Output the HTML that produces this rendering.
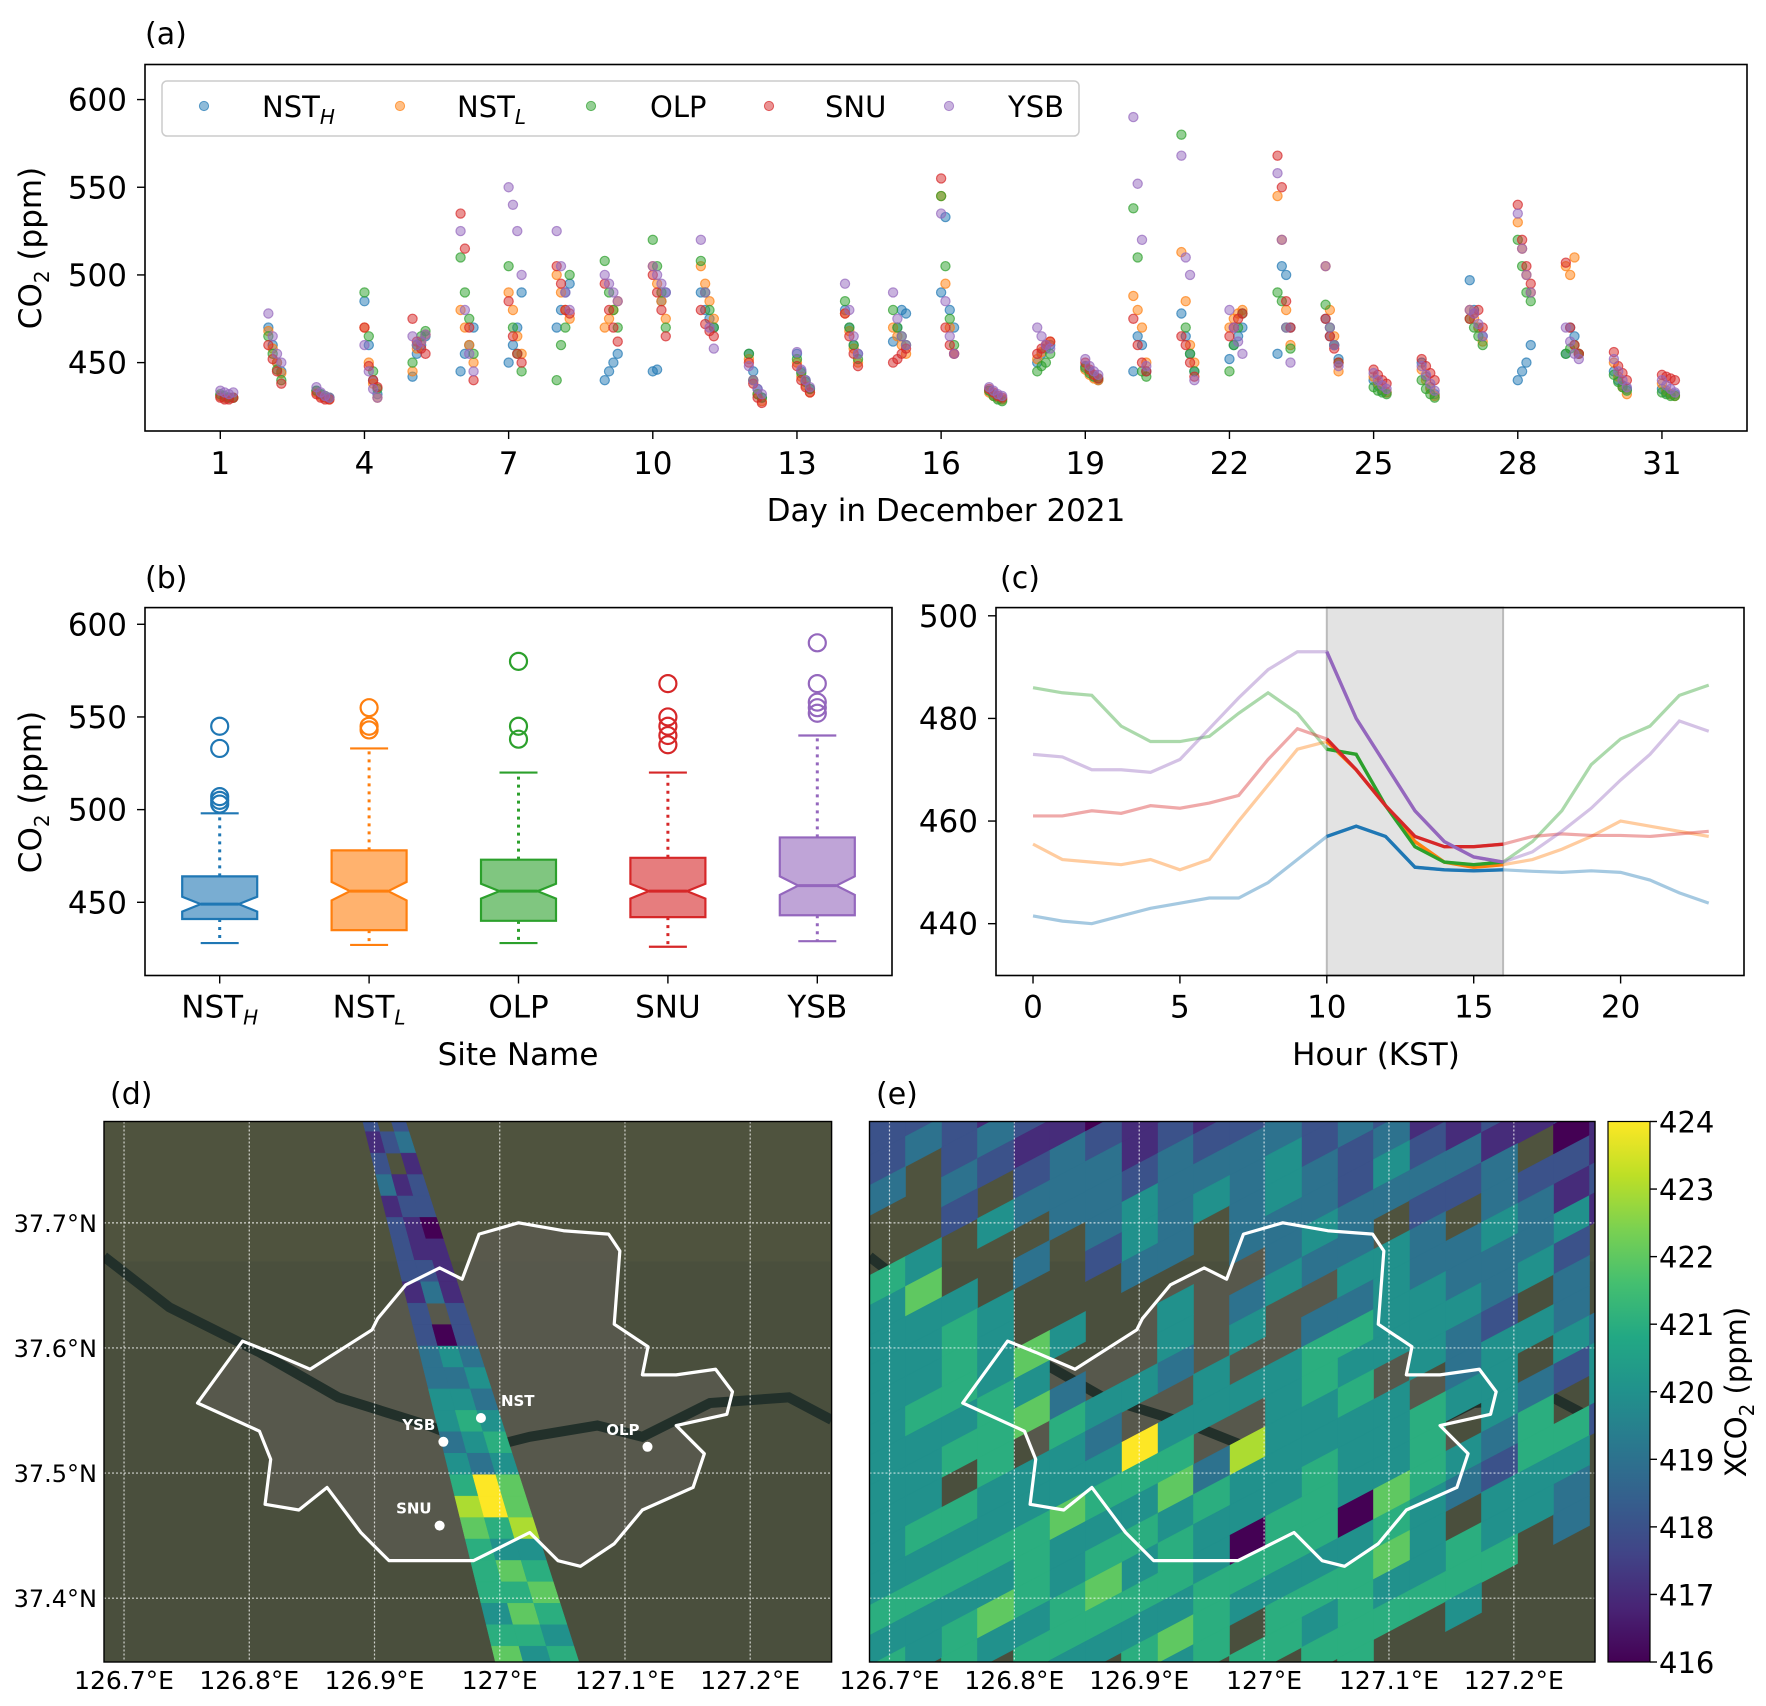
<!DOCTYPE html>
<html><head><meta charset="utf-8">
<style>
html,body{margin:0;padding:0;background:#fff;}
svg{display:block;font-family:"DejaVu Sans","Liberation Sans",sans-serif;}
text{fill:#000;}
</style></head>
<body>
<svg id="fig" width="1766" height="1706" viewBox="0 0 1766 1706" xmlns="http://www.w3.org/2000/svg">
<defs>
<clipPath id="clipD"><rect x="104" y="1121.5" width="727.6" height="540.5"/></clipPath>
<clipPath id="clipE"><rect x="869.5" y="1121.5" width="725.5" height="540.5"/></clipPath>
<linearGradient id="vir" x1="0" y1="1" x2="0" y2="0">
<stop offset="0" stop-color="#440154"/><stop offset="0.1" stop-color="#482475"/><stop offset="0.2" stop-color="#414487"/><stop offset="0.3" stop-color="#355f8d"/><stop offset="0.4" stop-color="#2a788e"/><stop offset="0.5" stop-color="#21918c"/><stop offset="0.6" stop-color="#22a884"/><stop offset="0.7" stop-color="#44bf70"/><stop offset="0.8" stop-color="#7ad151"/><stop offset="0.9" stop-color="#bddf26"/><stop offset="1" stop-color="#fde725"/>
</linearGradient>
</defs>
</svg>
<script>
// ---------- Panel (a) data ----------
const days = [1,2,3,4,5,6,7,8,9,10,11,12,13,14,15,16,17,18,19,20,21,22,23,24,25,26,27,28,29,30,31];
const aTicks = [1,4,7,10,13,16,19,22,25,28,31];
const aYTicks = [450,500,550,600];
const siteNames = ["NSTH","NSTL","OLP","SNU","YSB"];
const siteColors = ["#1f77b4","#ff7f0e","#2ca02c","#d62728","#9467bd"];
const nsthDaily = [[431,430,430,430],[470,460,450,445],[434,432,430,430],[485,460,440,432],[442,455,460,465],[445,455,460,470],[450,460,470,490],[470,480,490,495],[440,445,450,455],[445,446,485,490],[490,480,475,470],[455,445,435,430],[455,445,440,435],[480,470,460,455],[462,470,480,478],[490,533,480,470],[434,432,430,429],[450,455,458,460],[448,445,442,440],[445,465,460,445],[478,465,455,445],[452,460,465,470],[455,505,500,470],[475,465,460,452],[440,437,434,433],[450,442,436,432],[497,480,470,465],[440,445,450,460],[455,470,465,455],[445,440,437,435],[435,433,432,432]];
const nstlDaily = [[431,430,430,430],[468,458,450,444],[433,431,430,429],[470,450,438,430],[445,458,462,466],[480,470,460,450],[490,480,465,455],[500,490,480,475],[470,475,480,485],[505,495,485,475],[505,495,485,475],[452,440,432,428],[450,442,437,433],[478,468,458,450],[470,465,460,455],[545,495,470,455],[433,431,430,429],[452,456,460,462],[446,443,441,440],[488,480,470,450],[513,485,460,450],[470,475,478,480],[545,520,480,460],[505,480,465,445],[442,438,435,433],[446,440,435,431],[480,475,470,462],[530,515,500,490],[505,500,510,455],[450,442,436,432],[438,434,432,431]];
const olpDaily = [[432,431,430,430],[465,455,446,440],[434,432,431,430],[490,465,445,435],[450,460,465,468],[510,490,475,455],[505,470,455,445],[440,460,470,500],[508,490,480,470],[520,505,490,470],[508,490,480,470],[455,440,432,430],[452,444,439,435],[485,470,460,452],[480,470,465,460],[545,505,475,460],[434,431,429,428],[445,448,450,455],[447,444,442,441],[538,510,445,442],[580,470,455,445],[445,460,470,478],[490,485,470,458],[483,470,460,450],[436,434,433,432],[440,435,432,430],[475,470,465,460],[520,505,490,485],[455,458,460,455],[443,439,436,434],[433,432,431,431]];
const snuDaily = [[430,429,429,430],[460,452,445,438],[432,430,429,429],[470,448,440,436],[475,462,458,455],[535,515,470,440],[485,465,455,450],[505,495,480,478],[495,480,470,462],[500,490,480,465],[480,472,468,465],[450,438,430,427],[448,440,436,433],[478,465,455,448],[450,452,455,458],[555,470,460,455],[435,433,431,430],[455,458,460,462],[450,446,443,441],[475,460,450,445],[465,460,450,442],[465,470,475,478],[568,550,485,470],[475,465,458,450],[446,443,440,438],[452,448,444,440],[475,478,480,470],[540,520,505,495],[507,470,460,455],[456,448,444,440],[443,442,441,440]];
const ysbDaily = [[434,433,432,433],[478,465,455,450],[436,433,431,430],[460,445,435,430],[465,460,462,466],[525,480,455,445],[550,540,525,500],[525,505,490,480],[500,495,490,485],[505,500,495,490],[520,490,470,458],[448,440,435,432],[456,446,440,436],[495,480,465,455],[490,475,465,460],[535,485,465,455],[436,434,432,431],[470,465,460,458],[452,448,445,443],[590,552,520,448],[568,510,500,440],[480,470,462,455],[558,520,470,450],[505,470,460,448],[444,440,437,435],[448,443,438,434],[480,478,472,465],[535,515,500,490],[470,462,455,452],[452,445,440,436],[440,437,435,433]];
const aSeries = [nsthDaily,nstlDaily,olpDaily,snuDaily,ysbDaily];
const hourOffsets = [0,0.09,0.18,0.27];

// ---------- Panel (b) data ----------
const boxSites = ["NSTH","NSTL","OLP","SNU","YSB"];
const boxLow = [428,427,428,426,429];
const boxQ1 = [441,435,440,442,443];
const boxMed = [449,456,456,456,459];
const boxQ3 = [464,478,473,474,485];
const boxHigh = [498,533,520,520,540];
const boxNotch = [4,5,4,4,5];
const boxFliers = [[503,505,507,533,545],[543,545,555],[538,545,580],[535,540,545,550,568],[552,555,558,568,590]];
const bYTicks = [450,500,550,600];

// ---------- Panel (c) data ----------
const hours = [0,1,2,3,4,5,6,7,8,9,10,11,12,13,14,15,16,17,18,19,20,21,22,23];
const cXTicks = [0,5,10,15,20];
const cYTicks = [440,460,480,500];
const diurnalNSTH = [441.5,440.5,440,441.5,443,444,445,445,448,452.5,457,459,457,451,450.5,450.3,450.5,450.2,450,450.3,450,448.5,446,444];
const diurnalNSTL = [455.5,452.5,452,451.5,452.5,450.5,452.5,460,467,474,475.5,470,463,456,452,451,451.5,452.5,454.5,457,460,459,458,457];
const diurnalOLP = [486,485,484.5,478.5,475.5,475.5,476.5,481,485,481,474,473,463,455,452,451.5,452,456,462,471,476,478.5,484.5,486.5];
const diurnalSNU = [461,461,462,461.5,463,462.5,463.5,465,472,478,476,470,463,457,455,455,455.5,457,457.5,457.2,457.2,457,457.5,458];
const diurnalYSB = [473,472.5,470,470,469.5,472,478,484,489.5,493,493,480,471,462,456,453,452,454,458,462.5,468,473,479.5,477.5];
const diurnal = [diurnalNSTH,diurnalNSTL,diurnalOLP,diurnalSNU,diurnalYSB];
const windowStart = 10, windowEnd = 16;

// ---------- Map data ----------
const lonTicks = [126.7,126.8,126.9,127.0,127.1,127.2];
const lonLabels = ["126.7°E","126.8°E","126.9°E","127°E","127.1°E","127.2°E"];
const latTicks = [37.4,37.5,37.6,37.7];
const latLabels = ["37.4°N","37.5°N","37.6°N","37.7°N"];
const cbTicks = [416,417,418,419,420,421,422,423,424];
const swathD = ["2.2","123","2.1","312","122","210","211","221","131","2.2","202","343","334","443","454","345","434","586","786","657","544","565","556","465","554","645"];
const gridE = [
"213112101212312210121",
"222121012123232112101",
"232313213233223231.21",
"3.3223323334324323212",
"..2.333434343332.3341",
"...4..343.3343.33432.",
"54..3.23...334433343.",
"464.....4.34.34443.3.",
"4454.4..4.4.354432443",
"44546...3...544434.24",
"445443.4.44455..443.4",
"4545654.44.44445.4552",
"4455.4385.7444454354.",
"44.54445634454453243.",
"4454465445445064.443.",
"454454455405545454...",
"445554545455456455...",
"55445565454455454....",
"4456455465.5455......",
"54545445455555......."];
const stationNames = ["NST","YSB","OLP","SNU"];
const stationLon = [126.985,126.955,127.118,126.952];
const stationLat = [37.544,37.525,37.521,37.458];

const NS="http://www.w3.org/2000/svg";
const svg=document.getElementById('fig');
function el(tag,attrs,parent){const e=document.createElementNS(NS,tag);for(const k in attrs)e.setAttribute(k,attrs[k]);(parent||svg).appendChild(e);return e;}
function txt(x,y,s,size,anchor,parent){const t=el('text',{x:x,y:y,'font-size':size,'text-anchor':anchor||'middle'},parent);t.textContent=s;return t;}
const TF=31;

// ======== Panel (a) ========
const A={l:145,r:1747,t:64.5,b:431,x0:-0.567,x1:32.77,y0:411,y1:620};
const ax=v=>A.l+(v-A.x0)/(A.x1-A.x0)*(A.r-A.l);
const ay=v=>A.b-(v-A.y0)/(A.y1-A.y0)*(A.b-A.t);
let pa=el('g',{});


let lab=txt(145,44,'(a)',30,'start',pa);


for(let s=0;s<5;s++){
  let g=el('g',{},pa);
  
  
  aSeries[s].forEach((vals,di)=>{vals.forEach((v,j)=>{
    let c=el('circle',{cx:ax(days[di]+hourOffsets[j]),cy:ay(v),r:4.6,fill:siteColors[s],'fill-opacity':0.5,stroke:siteColors[s],'stroke-opacity':0.7,'stroke-width':1.2},g);
    
    
  });});
}
let frA=el('rect',{x:A.l,y:A.t,width:A.r-A.l,height:A.b-A.t,fill:'none',stroke:'#000','stroke-width':1.6},pa);


aTicks.forEach(t=>{el('line',{x1:ax(t),x2:ax(t),y1:A.b,y2:A.b+8,stroke:'#000','stroke-width':1.4},pa);let l=txt(ax(t),A.b+43,String(t),TF,'middle',pa);});
aYTicks.forEach(t=>{el('line',{x1:A.l-8,x2:A.l,y1:ay(t),y2:ay(t),stroke:'#000','stroke-width':1.4},pa);let l=txt(A.l-18,ay(t)+11,String(t),TF,'end',pa);});
let xtA=txt(946,521,'Day in December 2021',TF,'middle',pa);


function co2Title(x,y,parent){const t=el('text',{x:0,y:0,'font-size':TF,'text-anchor':'middle',transform:`translate(${x},${y}) rotate(-90)`},parent);t.innerHTML='CO<tspan font-size="20" dy="8">2</tspan><tspan dy="-8"> (ppm)</tspan>';return t;}
let ytA=co2Title(41,248,pa);


let lg=el('g',{},pa);


el('rect',{x:162,y:81,width:917,height:55,rx:5,fill:'#fff','fill-opacity':0.85,stroke:'#ccc','stroke-width':1.5},lg);
const legMX=[204,400,591,769,949], legTX=[262,457,650,825,1008];
const legLab=['NST<tspan font-size="20" font-style="italic" dy="7">H</tspan>','NST<tspan font-size="20" font-style="italic" dy="7">L</tspan>','OLP','SNU','YSB'];
for(let s=0;s<5;s++){
  let ge=el('g',{},lg);
  
  
  el('circle',{cx:legMX[s],cy:106,r:4.6,fill:siteColors[s],'fill-opacity':0.5,stroke:siteColors[s],'stroke-opacity':0.7},ge);
  let t=el('text',{x:legTX[s],y:117,'font-size':29},ge);t.innerHTML=legLab[s];
}

// ======== Panel (b) ========
const B={l:145,r:892,t:607.6,b:975.5,y0:410.5,y1:609};
const by=v=>B.b-(v-B.y0)/(B.y1-B.y0)*(B.b-B.t);
const bx=i=>B.l+(B.r-B.l)*(0.1+0.2*i);
let pb=el('g',{});


lab=txt(145,588,'(b)',30,'start',pb);


for(let i=0;i<5;i++){
  const c=siteColors[i],x=bx(i),w=37.5,nw=19;
  let g=el('g',{},pb);
  
  
  const m=boxMed[i],n=boxNotch[i];
  const pts=[[x-w,by(boxQ1[i])],[x+w,by(boxQ1[i])],[x+w,by(m-n)],[x+nw,by(m)],[x+w,by(m+n)],[x+w,by(boxQ3[i])],[x-w,by(boxQ3[i])],[x-w,by(m+n)],[x-nw,by(m)],[x-w,by(m-n)]];
  el('polygon',{points:pts.map(p=>p.join(',')).join(' '),fill:c,'fill-opacity':0.6,stroke:c,'stroke-width':2.2},g);
  el('line',{x1:x-nw,x2:x+nw,y1:by(m),y2:by(m),stroke:c,'stroke-width':3},g);
  el('line',{x1:x,x2:x,y1:by(boxQ1[i]),y2:by(boxLow[i]),stroke:c,'stroke-width':3,'stroke-dasharray':'3,5'},g);
  el('line',{x1:x,x2:x,y1:by(boxQ3[i]),y2:by(boxHigh[i]),stroke:c,'stroke-width':3,'stroke-dasharray':'3,5'},g);
  el('line',{x1:x-19,x2:x+19,y1:by(boxLow[i]),y2:by(boxLow[i]),stroke:c,'stroke-width':2.2},g);
  el('line',{x1:x-19,x2:x+19,y1:by(boxHigh[i]),y2:by(boxHigh[i]),stroke:c,'stroke-width':2.2},g);
  boxFliers[i].forEach(v=>{el('circle',{cx:x,cy:by(v),r:8.5,fill:'none',stroke:c,'stroke-width':2.2},g);});
}
let frB=el('rect',{x:B.l,y:B.t,width:B.r-B.l,height:B.b-B.t,fill:'none',stroke:'#000','stroke-width':1.6},pb);


const boxLabels=['NST<tspan font-size="20" font-style="italic" dy="7">H</tspan>','NST<tspan font-size="20" font-style="italic" dy="7">L</tspan>','OLP','SNU','YSB'];
for(let i=0;i<5;i++){el('line',{x1:bx(i),x2:bx(i),y1:B.b,y2:B.b+8,stroke:'#000','stroke-width':1.4},pb);let t=el('text',{x:bx(i),y:B.b+42,'font-size':TF,'text-anchor':'middle'},pb);t.innerHTML=boxLabels[i];}
bYTicks.forEach(t=>{el('line',{x1:B.l-8,x2:B.l,y1:by(t),y2:by(t),stroke:'#000','stroke-width':1.4},pb);let l=txt(B.l-18,by(t)+11,String(t),TF,'end',pb);});
let xtB=txt(518,1065,'Site Name',TF,'middle',pb);


let ytB=co2Title(41,792,pb);



// ======== Panel (c) ========
const C={l:996,r:1744,t:607.6,b:975.5,x0:-1.26,x1:24.2,y0:429.9,y1:501.6};
const cx=v=>C.l+(v-C.x0)/(C.x1-C.x0)*(C.r-C.l);
const cy=v=>C.b-(v-C.y0)/(C.y1-C.y0)*(C.b-C.t);
let pc=el('g',{});


lab=txt(1000,588,'(c)',30,'start',pc);


let sh=el('rect',{x:cx(windowStart),y:C.t,width:cx(windowEnd)-cx(windowStart),height:C.b-C.t,fill:'#e3e3e3',stroke:'#bbb','stroke-width':2},pc);


for(let s=0;s<5;s++){
  let full=el('polyline',{points:hours.map((h,i)=>cx(h)+','+cy(diurnal[s][i])).join(' '),fill:'none',stroke:siteColors[s],'stroke-opacity':0.4,'stroke-width':3.2},pc);
  
  
}
for(let s=0;s<5;s++){
  const idx=hours.map((h,i)=>i).filter(i=>hours[i]>=windowStart&&hours[i]<=windowEnd);
  let seg=el('polyline',{points:idx.map(i=>cx(hours[i])+','+cy(diurnal[s][i])).join(' '),fill:'none',stroke:siteColors[s],'stroke-width':3.4},pc);
  
  
}
let frC=el('rect',{x:C.l,y:C.t,width:C.r-C.l,height:C.b-C.t,fill:'none',stroke:'#000','stroke-width':1.6},pc);


cXTicks.forEach(t=>{el('line',{x1:cx(t),x2:cx(t),y1:C.b,y2:C.b+8,stroke:'#000','stroke-width':1.4},pc);let l=txt(cx(t),C.b+42,String(t),TF,'middle',pc);});
cYTicks.forEach(t=>{el('line',{x1:C.l-8,x2:C.l,y1:cy(t),y2:cy(t),stroke:'#000','stroke-width':1.4},pc);let l=txt(C.l-18,cy(t)+11,String(t),TF,'end',pc);});
let xtC=txt(1376,1065,'Hour (KST)',TF,'middle',pc);



// ======== Maps ========
const vir=['#440154','#482475','#414487','#355f8d','#2a788e','#21918c','#22a884','#44bf70','#7ad151','#bddf26','#fde725'];
function hex(h){return [1,3,5].map(i=>parseInt(h.substr(i,2),16));}
function viridis(v){let t=Math.max(0,Math.min(1,(v-416)/8))*10;let i=Math.min(9,Math.floor(t)),f=t-i;const a=hex(vir[i]),b=hex(vir[i+1]);return 'rgb('+a.map((x,k)=>Math.round(x+(b[k]-x)*f)).join(',')+')';}
const boundaryPts=[[175,1245],[215,1190],[240,1200],[275,1215],[330,1180],[335,1170],[360,1140],[390,1125],[410,1135],[425,1095],[460,1085],[500,1092],[540,1095],[550,1110],[545,1175],[575,1195],[570,1220],[600,1220],[635,1215],[650,1235],[645,1255],[600,1265],[625,1290],[615,1320],[570,1340],[545,1370],[515,1390],[495,1385],[470,1360],[440,1375],[420,1385],[345,1385],[320,1360],[290,1320],[265,1340],[235,1335],[240,1295],[230,1270]];
const riverPts=[[92,1115],[150,1160],[230,1200],[300,1240],[380,1265],[430,1285],[470,1275],[530,1265],[570,1275],[630,1245],[700,1240],[738,1260]];
const MT=1121.5, MH=540.5;
function mkMap(L,R){
  const W=R-L;
  return {L:L,R:R,
    px:x=>L+(x-92)/646*W, py:y=>MT+(y-995)/480*MH,
    lonX:lon=>L+(lon-126.684)/0.581*W, latY:lat=>MT+(37.781-lat)/0.432*MH};
}
const MD=mkMap(104,831.6), ME=mkMap(869.5,1595);
function mapBase(M,name,clip){
  let g=el('g',{'clip-path':'url(#'+clip+')'});
  
  
  el('rect',{x:M.L,y:MT,width:M.R-M.L,height:MH,fill:'#4a4f3d'},g);
  el('rect',{x:M.L,y:MT,width:M.R-M.L,height:140,fill:'#51553f','fill-opacity':0.7},g);
  el('polygon',{points:boundaryPts.map(p=>M.px(p[0])+','+M.py(p[1])).join(' '),fill:'#5c5b52','fill-opacity':0.75},g);
  el('polyline',{points:riverPts.map(p=>M.px(p[0])+','+M.py(p[1])).join(' '),fill:'none',stroke:'#22302a','stroke-width':10},g);
  return g;
}
function mapOverlay(M,g){
  lonTicks.forEach(lo=>{const x=M.lonX(lo);el('line',{x1:x,x2:x,y1:MT,y2:MT+MH,stroke:'#fff','stroke-opacity':0.75,'stroke-width':1.2,'stroke-dasharray':'2,2'},g);});
  latTicks.forEach(la=>{const y=M.latY(la);el('line',{x1:M.L,x2:M.R,y1:y,y2:y,stroke:'#fff','stroke-opacity':0.75,'stroke-width':1.2,'stroke-dasharray':'2,2'},g);});
  let b=el('polygon',{points:boundaryPts.map(p=>M.px(p[0])+','+M.py(p[1])).join(' '),fill:'none',stroke:'#fff','stroke-width':3.2,'stroke-linejoin':'round'},g);
  
  
}
function mapAxes(M,showLat){
  let f=el('rect',{x:M.L,y:MT,width:M.R-M.L,height:MH,fill:'none',stroke:'#000','stroke-width':1.4});
  
  
  lonTicks.forEach((t,i)=>{let l=txt(M.lonX(t),1689,lonLabels[i],25,'middle');});
  if(showLat)latTicks.forEach((t,i)=>{let l=txt(97,M.latY(t)+9,latLabels[i],24,'end');});
}
// (d)
lab=txt(110,1104,'(d)',30,'start');


let gD=mapBase(MD,'panel-d-map','clipD');
let swG=el('g',{},gD);


{
  const n=swathD.length,x0t=MD.px(338),x0b=MD.px(478),yt=MD.py(985),yb=MD.py(1480),wt=42,wb=84;
  for(let r=0;r<n;r++)for(let c=0;c<3;c++){
    const ch=swathD[r][c];if(ch==='.')continue;
    const v=416+parseInt(ch);
    const f=k=>k/n, yA=yt+(yb-yt)*f(r), yB=yt+(yb-yt)*f(r+1);
    const cxA=x0t+(x0b-x0t)*f(r), cxB=x0t+(x0b-x0t)*f(r+1), wA=wt+(wb-wt)*f(r), wB=wt+(wb-wt)*f(r+1);
    const p=[[cxA-wA/2+wA*c/3,yA],[cxA-wA/2+wA*(c+1)/3,yA],[cxB-wB/2+wB*(c+1)/3,yB],[cxB-wB/2+wB*c/3,yB]];
    let cell=el('polygon',{points:p.map(q=>q.join(',')).join(' '),fill:viridis(v),stroke:viridis(v),'stroke-width':0.5},swG);
    
    
  }
}
mapOverlay(MD,gD);
for(let i=0;i<4;i++){
  const x=MD.lonX(stationLon[i]),y=MD.latY(stationLat[i]);
  let g=el('g',{},gD);
  
  
  el('circle',{cx:x,cy:y,r:5,fill:'#fff'},g);
  let t=el('text',{x:stationNames[i]==='NST'?x+20:x-8,y:y-12,'font-size':15,'font-weight':'bold','text-anchor':stationNames[i]==='NST'?'start':'end'},g);
  t.style.fill='#fff';t.textContent=stationNames[i];
}
mapAxes(MD,true);
// (e)
lab=txt(876,1104,'(e)',30,'start');


let gE=mapBase(ME,'panel-e-map','clipE');
let cellsE=el('g',{},gE);


gridE.forEach((row,k)=>{for(let c=0;c<row.length;c++){
  const ch=row[c];if(ch==='.')continue;
  const v=416+parseInt(ch);
  const x=ME.L+c*36, y=MT-26+k*30-((c*19)%30);
  const p=[[x,y],[x+36,y-19],[x+36,y+11],[x,y+30]];
  let cell=el('polygon',{points:p.map(q=>q.join(',')).join(' '),fill:viridis(v),stroke:viridis(v),'stroke-width':0.6},cellsE);
  
  
}});
mapOverlay(ME,gE);
mapAxes(ME,false);
// colorbar
let cb=el('g',{});


el('rect',{x:1608,y:MT,width:42,height:MH,fill:'url(#vir)',stroke:'#000','stroke-width':1.2},cb);
cbTicks.forEach(t=>{const y=MT+MH-(t-416)/8*MH;el('line',{x1:1650,x2:1657,y1:y,y2:y,stroke:'#000','stroke-width':1.4},cb);let l=txt(1659,y+11,String(t),29,'start',cb);});
let cbt=el('text',{x:0,y:0,'font-size':29,'text-anchor':'middle',transform:'translate(1746,1392) rotate(-90)'},cb);
cbt.innerHTML='XCO<tspan font-size="20" dy="8">2</tspan><tspan dy="-8"> (ppm)</tspan>';


</script>
</body></html>
